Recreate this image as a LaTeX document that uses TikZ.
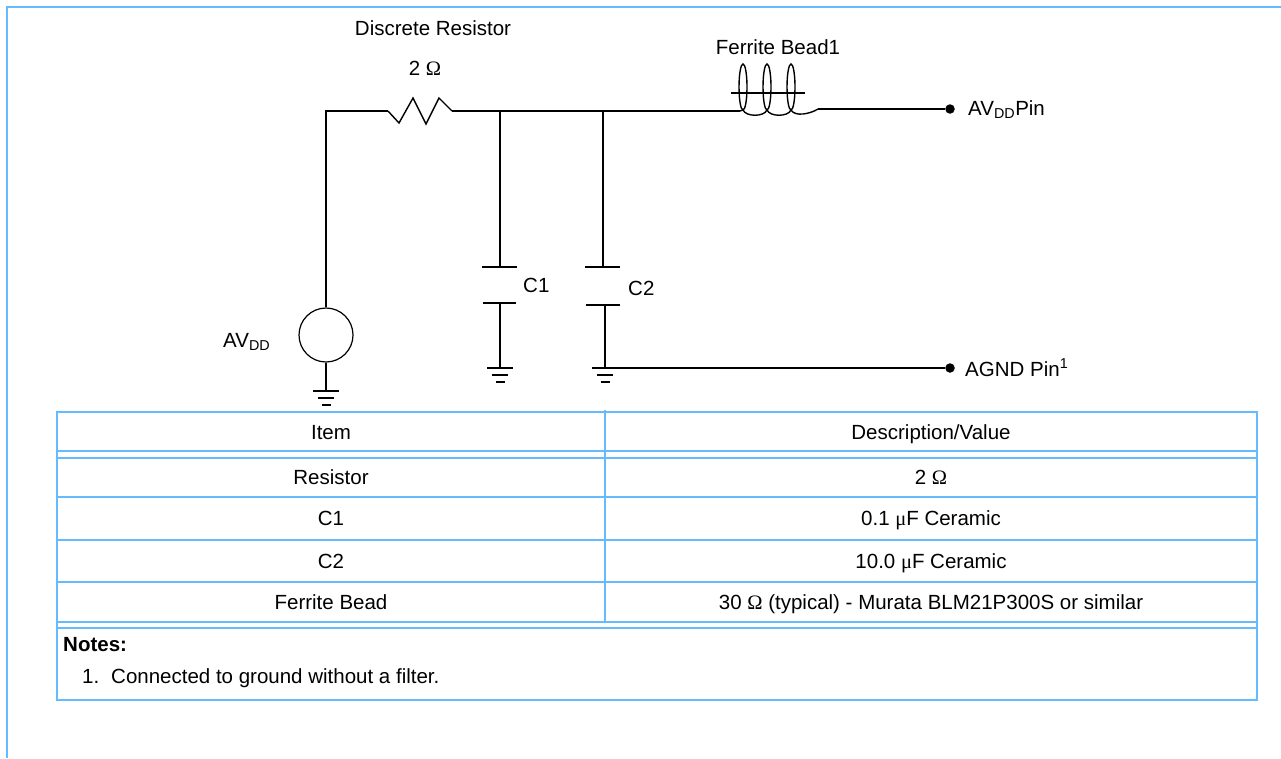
\documentclass[tikz,border=0pt]{standalone}
\usepackage{fontspec}
\setmainfont{Liberation Sans}
\newfontfamily\symfont{Liberation Serif}
\usetikzlibrary{positioning}
\definecolor{tabblue}{RGB}{102,187,255}
\tikzstyle{wire} = [line width=2.3pt, black]
\tikzstyle{thinwire} = [line width=1.4pt, black]
\tikzstyle{rule} = [line width=2.6pt, tabblue]
\tikzstyle{label} = [font=\fontsize{20.5}{24}\selectfont, inner sep=0pt, text height=14.7pt, text depth=0pt]
\tikzstyle{pin} = [circle, fill=black, inner sep=0pt, minimum size=9.5pt]
\tikzstyle{source} = [circle, draw=black, line width=1.2pt, inner sep=0pt, minimum size=54pt]
\tikzset{gnd/.pic={
    \draw[wire] (-13,0) -- (13,0);
    \draw[wire] (-8,7) -- (8,7);
    \draw[wire] (-4.5,14) -- (4.5,14);
}}

\begin{document}
\begin{tikzpicture}[x=1pt, y=-1pt]
    \useasboundingbox (0,0) rectangle (1281,758);
    % frame
    \draw[rule] (7,758) -- (7,7) -- (1281,7);

    % circuit
    \node (src) [source] at (326,335) {};
    \node (avdd) [label, anchor=west] at (223,340) {AV\textsubscript{DD}};
    \coordinate (rleft) at (388,111);
    \coordinate (rright) at (452,111);
    \coordinate (fbleft) at (740,111);
    \coordinate (fbright) at (818,109);
    \node (avddpin) [pin] at (950,109) {};
    \node (agndpin) [pin] at (950,368) {};

    \draw [wire] (src.north) |- (rleft);
    \draw [thinwire] (rleft) -- (399,123) -- (413,98) -- (426,124) -- (439,98) -- (rright);
    \draw [thinwire] (rright) -- (fbleft);
    \draw [wire] (src.south) -- (326,391);
    \pic at (326,391) {gnd};

    \node (rname) [label] at (433,28) {Discrete Resistor};
    \node (rval) [label] at (425,68) {2 {\symfont Ω}};

    % C1
    \draw [wire] (500,111) -- (500,267);
    \draw [wire] (482,267) -- (517,267);
    \draw [wire] (483,303) -- (516,303);
    \draw [wire] (500,303) -- (500,368);
    \pic at (500,368) {gnd};
    \node (cone) [label, anchor=west] at (523,285) {C1};

    % C2
    \draw [wire] (603,111) -- (603,267);
    \draw [wire] (585,267) -- (620,267);
    \draw [wire] (586,305) -- (620,305);
    \draw [wire] (605,305) -- (605,368);
    \pic at (605,368) {gnd};
    \draw [wire] (592,368) -- (agndpin);
    \node (ctwo) [label, anchor=west] at (628,288) {C2};

    % ferrite bead
    \foreach \cx in {743,767,791}
        \draw [thinwire] (\cx,87) ellipse (4pt and 23pt);
    \draw [thinwire] (fbleft) -- (743,110);
    \draw [thinwire] (743,110) .. controls (746,117) and (764,117) .. (767,110);
    \draw [thinwire] (767,110) .. controls (770,117) and (788,117) .. (791,110);
    \draw [thinwire] (791,110) .. controls (795,117) and (810,114) .. (fbright);
    \draw [wire] (731,93) -- (805,93);
    \draw [wire] (fbright) -- (avddpin);
    \node (fbname) [label] at (778,47.5) {Ferrite Bead1};

    \node (avddtxt) [label, anchor=west] at (968,108) {AV\textsubscript{DD}Pin};
    \node (agndtxt) [label, anchor=west] at (965,369) {AGND Pin\textsuperscript{1}};

    % table
    \draw [rule] (57,412) rectangle (1257,700);
    \foreach \y in {451,458,497,540,582,622,628}
        \draw [rule] (57,\y) -- (1257,\y);
    \draw [rule] (605,410) -- (605,622);

    \node (hitem) [label] at (331,432) {Item};
    \node (hdesc) [label] at (931,432) {Description/Value};
    \node (res) [label] at (331,477.5) {Resistor};
    \node (resval) [label] at (931,477.5) {2 {\symfont Ω}};
    \node (cap1) [label] at (331,518.5) {C1};
    \node (cap1val) [label] at (931,518.5) {0.1 {\symfont μ}F Ceramic};
    \node (cap2) [label] at (331,561) {C2};
    \node (cap2val) [label] at (931,561) {10.0 {\symfont μ}F Ceramic};
    \node (bead) [label] at (331,602) {Ferrite Bead};
    \node (beadval) [label] at (931,602) {30 {\symfont Ω} (typical) - Murata BLM21P300S or similar};

    \node (notes) [label, anchor=west] at (63,644.5) {\bfseries Notes:};
    \node (noteno) [label, anchor=west] at (82,676) {1.};
    \node (notetext) [label, anchor=west] at (111,676) {Connected to ground without a filter.};
\end{tikzpicture}
\end{document}
